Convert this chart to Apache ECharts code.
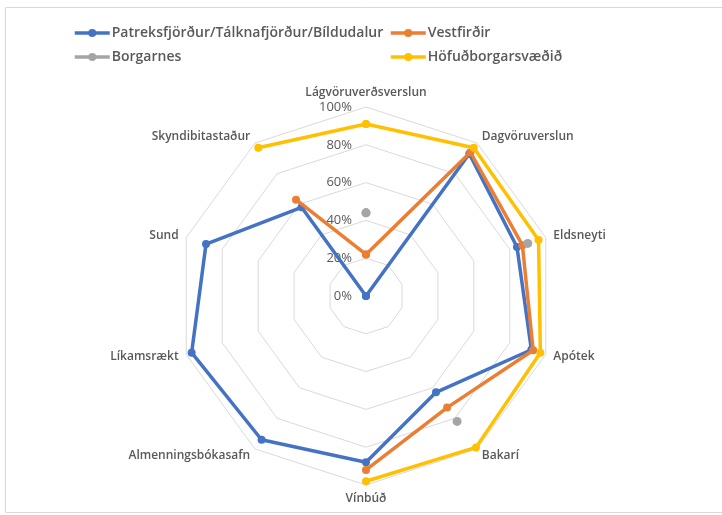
<!DOCTYPE html>
<html>
<head>
<meta charset="utf-8">
<script src="https://cdn.jsdelivr.net/npm/echarts@6/dist/echarts.min.js"></script>
<style>
  html, body { margin: 0; padding: 0; background: #fff; }
  #chart { width: 722px; height: 515px; }
</style>
</head>
<body>
<div id="chart"></div>
<script>
// categories, clockwise from the top
const categories = [
  'Lágvöruverðsverslun',
  'Dagvöruverslun',
  'Eldsneyti',
  'Apótek',
  'Bakarí',
  'Vínbúð',
  'Almenningsbókasafn',
  'Líkamsrækt',
  'Sund',
  'Skyndibitastaður',
]

const seriesNames = [
  'Patreksfjörður/Tálknafjörður/Bíldudalur',
  'Vestfirðir',
  'Borgarnes',
  'Höfuðborgarsvæðið',
]

// share (0-1), null = no value
const patreksfjordur = [0, 0.93, 0.84, 0.92, 0.63, 0.88, 0.94, 0.97, 0.89, 0.58]
const vestfirdir = [0.22, 0.94, 0.87, 0.93, 0.73, 0.92, null, null, null, 0.63]
const borgarnes = [0.44, null, 0.9, null, 0.82, null, null, null, null, null]
const hofudborgarsvaedid = [0.91, 0.97, 0.96, 0.97, 0.99, 0.98, null, null, null, 0.97]

const tickValues = [0, 0.2, 0.4, 0.6, 0.8, 1]

const colors = ['#4472C4', '#ED7D31', '#A5A5A5', '#FFC000']
const textColor = '#595959'
const font = '"Open Sans", sans-serif'

const chart = echarts.init(document.getElementById('chart'), null, { renderer: 'canvas' })

// radar goes counter-clockwise, so flip the order after the first one
const radarIndicators = [categories[0]].concat(categories.slice(1).reverse()).map((name) => ({
  name,
  min: 0,
  max: 1,
}))

// points on a polar value axis (0..10 = full turn), last point closes the ring
function toPolar(values) {
  const pts = values.map((v, i) => [v === null ? '-' : v, i])
  pts.push([values[0] === null ? '-' : values[0], categories.length])
  return pts
}

const allValues = [patreksfjordur, vestfirdir, borgarnes, hofudborgarsvaedid]

const center = [366, 296]
const radius = 189

const legendBase = {
  orient: 'vertical',
  top: 26,
  padding: 0,
  itemWidth: 35,
  itemHeight: 10,
  itemGap: 10,
  lineStyle: { width: 3.5 },
  textStyle: { color: textColor, fontSize: 14, fontWeight: 600, fontFamily: font, padding: [0, 0, 0, -3] },
}

const option = {
  animation: false,
  color: colors,
  textStyle: { fontFamily: font },
  graphic: [
    {
      type: 'rect',
      shape: { x: 5.5, y: 7.5, width: 760, height: 505 },
      style: { fill: 'none', stroke: '#d9d9d9', lineWidth: 1 },
      silent: true,
    },
  ],
  legend: [
    Object.assign({}, legendBase, { data: [seriesNames[0], seriesNames[2]], left: 73 }),
    Object.assign({}, legendBase, { data: [seriesNames[1], seriesNames[3]], left: 389 }),
  ],
  radar: {
    center,
    radius,
    shape: 'polygon',
    splitNumber: 5,
    startAngle: 90,
    indicator: radarIndicators,
    nameGap: 8,
    axisName: {
      color: textColor,
      fontSize: 12,
      fontWeight: 600,
      fontFamily: font,
    },
    axisLine: { show: false },
    axisTick: { show: false },
    axisLabel: { show: false },
    splitArea: { show: false },
    splitLine: { lineStyle: { color: '#d9d9d9', width: 1 } },
  },
  polar: { center, radius },
  angleAxis: {
    type: 'value',
    min: 0,
    max: categories.length,
    startAngle: 90,
    clockwise: true,
    axisLine: { show: false },
    axisTick: { show: false },
    axisLabel: { show: false },
    splitLine: { show: false },
  },
  radiusAxis: {
    type: 'value',
    min: tickValues[0],
    max: tickValues[tickValues.length - 1],
    interval: 0.2,
    axisLine: { show: false },
    axisTick: { show: false },
    splitLine: { show: false },
    axisLabel: {
      color: textColor,
      fontSize: 13,
      fontFamily: font,
      margin: 14,
      formatter: (v) => Math.round(v * 100) + '%',
    },
  },
  series: seriesNames.map((name, i) => ({
    name,
    type: 'line',
    coordinateSystem: 'polar',
    data: toPolar(allValues[i]),
    connectNulls: false,
    symbol: 'circle',
    symbolSize: i === 2 ? 9 : 8,
    showSymbol: true,
    lineStyle: { width: 3.5, color: colors[i] },
    itemStyle: { color: colors[i] },
    z: 2 + i,
  })),
}

chart.setOption(option)
</script>
</body>
</html>
